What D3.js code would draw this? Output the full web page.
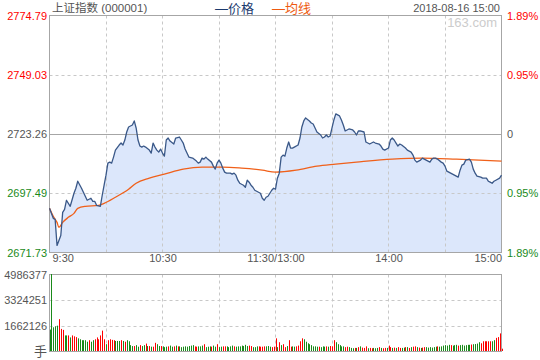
<!DOCTYPE html>
<html><head><meta charset="utf-8">
<script src="https://cdn.jsdelivr.net/npm/d3@7"></script>
<style>
body{margin:0;background:#fff}
svg{display:block}
text{font-family:"Liberation Sans",Arial,"Noto Sans CJK SC",sans-serif;font-size:11px}
</style>
</head><body>
<svg id="c" width="540" height="360"></svg>
<script>
// ---- data ----
const title = "上证指数 (000001)";
const dateLabel = "2018-08-16 15:00";
const legendLabels = ["—价格", "—均线"];
const priceTicks = [2671.73, 2697.49, 2723.26, 2749.03, 2774.79];
const pctLabels = ["1.89%", "0.95%", "0", "0.95%", "1.89%"];
const volTicks = [0, 1662126, 3324251, 4986377];
const timeMinutes = [0, 60, 120, 180, 240];
const timeLabels = ["9:30", "10:30", "11:30/13:00", "14:00", "15:00"];

const priceMinute = [0,2,3,4,6,7,8,9,11,13,14,15,17,18,19,20,22,23,24,25,27,28,29,30,31,32,33,34,35,37,38,39,40,41,42,44,45,46,47,48,49,50,51,53,54,55,56,57,58,59,60,61,62,63,64,66,67,69,70,71,72,73,74,76,78,79,80,81,82,83,84,86,87,88,89,90,91,92,93,94,96,97,98,99,100,101,103,104,105,106,107,108,109,110,112,113,114,115,116,117,118,119,120,121,122,123,124,125,126,127,128,129,130,132,133,134,135,136,138,139,140,141,142,144,145,146,147,148,149,150,151,152,154,155,156,157,158,159,161,162,163,164,165,167,168,170,171,172,173,175,176,177,178,180,181,182,183,184,185,186,187,189,190,192,193,194,195,197,198,199,200,202,203,204,205,206,208,209,210,211,213,214,216,217,218,219,220,221,223,224,225,226,227,229,230,232,233,234,235,236,237,239,240];
const priceValue = [2690.94,2686.58,2686.14,2674.79,2679.15,2689.20,2690.51,2694.44,2691.82,2697.49,2699.68,2702.73,2699.68,2697.93,2696.18,2694.44,2695.31,2694.00,2694.00,2692.25,2691.82,2696.62,2700.99,2705.36,2710.60,2711.03,2710.60,2713.22,2716.27,2718.46,2719.33,2718.46,2720.64,2724.13,2726.32,2727.19,2728.94,2725.88,2720.64,2718.02,2717.58,2718.02,2717.58,2716.27,2714.96,2719.33,2717.58,2716.27,2715.40,2716.71,2714.96,2713.65,2720.64,2721.51,2720.20,2718.89,2721.51,2721.95,2720.64,2719.33,2716.71,2714.96,2713.22,2712.78,2711.47,2710.60,2711.03,2712.78,2712.34,2713.22,2712.34,2711.03,2709.29,2707.98,2710.60,2711.91,2710.60,2708.41,2706.67,2706.23,2706.23,2705.79,2706.23,2705.36,2703.17,2701.86,2700.99,2700.11,2703.17,2702.30,2700.99,2700.11,2698.80,2698.37,2697.49,2695.31,2694.44,2695.75,2696.18,2697.49,2698.80,2699.68,2699.24,2704.05,2706.23,2713.22,2714.09,2713.65,2717.15,2719.77,2717.15,2717.15,2717.58,2718.46,2721.51,2726.32,2728.94,2730.25,2728.94,2728.06,2727.63,2725.88,2724.13,2722.82,2721.51,2721.95,2722.82,2721.95,2722.39,2725.88,2729.37,2731.99,2731.12,2729.37,2727.19,2724.57,2725.01,2725.44,2725.01,2724.13,2722.82,2724.57,2724.57,2724.13,2719.77,2718.89,2719.33,2719.77,2719.33,2718.89,2718.02,2716.71,2716.27,2717.15,2720.64,2721.51,2720.64,2719.33,2718.02,2718.89,2718.46,2717.15,2716.27,2715.40,2714.09,2711.91,2711.03,2711.91,2712.78,2712.34,2711.91,2711.03,2712.34,2712.78,2712.78,2712.34,2711.03,2710.60,2709.29,2707.10,2706.23,2705.79,2704.92,2704.48,2707.54,2709.72,2710.16,2711.91,2712.34,2711.03,2707.98,2706.23,2704.92,2704.48,2704.05,2704.05,2702.73,2702.30,2701.86,2702.73,2703.17,2704.05,2705.36];

const avgMinute = [0,2,4,5,7,10,13,15,19,26,29,35,42,46,53,61,71,81,92,102,113,120,131,142,152,163,182,198,216,240];
const avgValue = [2690.94,2687.45,2684.83,2682.65,2684.83,2687.01,2688.76,2690.94,2691.82,2692.25,2693.13,2695.75,2699.24,2701.86,2704.05,2705.79,2707.98,2708.85,2708.85,2708.41,2707.54,2706.67,2707.54,2709.29,2710.16,2711.03,2712.34,2712.78,2712.34,2711.47];

const volume = [
1389000,4986377,1535000,1598000,1641000,2062000,1431000,1368000,1010000,1010000,
1010000,880000,1010000,950000,900000,820000,760000,700000,700000,700000,
600000,700000,600000,700000,760000,880000,760000,1010000,1320000,760000,
440000,700000,760000,720000,700000,650000,650000,650000,700000,650000,
600000,700000,630000,380000,320000,320000,380000,280000,380000,320000,
380000,480000,320000,320000,280000,280000,530000,440000,320000,320000,
300000,250000,280000,300000,350000,280000,300000,350000,300000,300000,
250000,280000,300000,280000,320000,350000,380000,300000,280000,300000,
300000,350000,440000,250000,280000,300000,280000,350000,280000,440000,
250000,280000,300000,300000,300000,250000,300000,350000,300000,280000,
300000,300000,350000,320000,400000,320000,350000,320000,250000,250000,
300000,300000,280000,280000,300000,300000,320000,280000,250000,280000,
820000,250000,570000,380000,440000,250000,320000,700000,280000,300000,
280000,300000,350000,630000,820000,760000,600000,500000,440000,380000,
300000,300000,280000,280000,250000,300000,280000,300000,280000,320000,
300000,700000,570000,440000,380000,300000,300000,250000,280000,250000,
200000,180000,200000,200000,250000,300000,220000,200000,300000,180000,
200000,180000,200000,180000,200000,250000,200000,180000,200000,200000,
350000,250000,200000,220000,200000,250000,200000,200000,220000,250000,
250000,200000,250000,280000,300000,250000,220000,200000,220000,250000,
250000,220000,250000,220000,250000,280000,300000,280000,300000,350000,
380000,350000,400000,380000,350000,380000,400000,350000,380000,400000,
350000,380000,400000,400000,420000,440000,450000,480000,570000,500000,
630000,630000,630000,630000,630000,630000,700000,850000,900000,1140000,
150000];
const volumeUp = (
"gggggrrrgg"+"rgrrrggggg"+"grggrrrrrr"+"grrrrgggrg"+"rggggrggrg"+
"grgrgrrggr"+"gggrggrgrg"+"gggggggrrg"+"ggrgggrggr"+"ggrrggggrg"+
"ggggggrrgg"+"grrrrgggrr"+"rgrgrrgrrg"+"grrrrggggg"+"gggrgggrgr"+
"rrgggggrrg"+"ggrgrgrrrg"+"rrgggrgrrg"+"rrgrgrrggr"+"grgrrgrgrr"+
"ggggggrggg"+"gggrgggrgg"+"ggggrggggr"+"rrrrrggrrr"+"r").split("");

// ---- drawing ----
const RED = "#ff0000", GREEN = "#1a8a1a", GRAY = "#555555", GRID = "#c8c8c8", BORDER = "#a6a6a6";
const svg = d3.select("#c");
const x = d3.scaleLinear().domain([0, 240]).range([49.5, 501.5]);
const y = d3.scaleLinear().domain([priceTicks[0], priceTicks[4]]).range([252.5, 15.5]);
const yv = d3.scaleLinear().domain([0, volTicks[3]]).range([351.5, 274.5]);
const crisp = v => Math.round(v) + 0.5;

const pts = priceMinute.map((m, i) => ({m, v: priceValue[i]}));
const avgPts = avgMinute.map((m, i) => ({m, v: avgValue[i]}));

// price area fill
svg.append("path").datum(pts)
  .attr("d", d3.area().x(d => x(d.m)).y0(y(priceTicks[0])).y1(d => y(d.v)))
  .attr("fill", "#dce7fb");

// vertical dashed grid (both panels)
const gridMin = d3.range(30, 240, 30);
[[y.range()[1], y.range()[0]], [yv.range()[1], yv.range()[0]]].forEach(([a, b]) => {
  svg.append("g").selectAll("line").data(gridMin).join("line")
    .attr("x1", d => crisp(x(d) - 0.5)).attr("x2", d => crisp(x(d) - 0.5))
    .attr("y1", a).attr("y2", b)
    .attr("stroke", GRID).attr("stroke-dasharray", "3,3");
});
// horizontal dashed grid
svg.append("g").selectAll("line").data([priceTicks[1], priceTicks[3]]).join("line")
  .attr("x1", x(0)).attr("x2", x(240))
  .attr("y1", d => crisp(y(d))).attr("y2", d => crisp(y(d)))
  .attr("stroke", GRID).attr("stroke-dasharray", "3,3");
svg.append("g").selectAll("line").data([volTicks[1], volTicks[2]]).join("line")
  .attr("x1", x(0)).attr("x2", x(240))
  .attr("y1", d => crisp(yv(d))).attr("y2", d => crisp(yv(d)))
  .attr("stroke", GRID).attr("stroke-dasharray", "3,3");
// previous close line
svg.append("line").attr("x1", x(0)).attr("x2", x(240))
  .attr("y1", crisp(y(priceTicks[2]))).attr("y2", crisp(y(priceTicks[2])))
  .attr("stroke", BORDER);

// borders
svg.append("rect").attr("x", x(0)).attr("y", y.range()[1])
  .attr("width", x(240) - x(0)).attr("height", y.range()[0] - y.range()[1])
  .attr("fill", "none").attr("stroke", BORDER);
svg.append("rect").attr("x", x(0)).attr("y", yv.range()[1])
  .attr("width", x(240) - x(0)).attr("height", yv.range()[0] - yv.range()[1])
  .attr("fill", "none").attr("stroke", BORDER);

// average line
svg.append("path").datum(avgPts)
  .attr("d", d3.line().x(d => x(d.m)).y(d => y(d.v)).curve(d3.curveMonotoneX))
  .attr("fill", "none").attr("stroke", "#f0601a").attr("stroke-width", 1.3);
// price line
svg.append("path").datum(pts)
  .attr("d", d3.line().x(d => x(d.m)).y(d => y(d.v)))
  .attr("fill", "none").attr("stroke", "#3a5888").attr("stroke-width", 1.3)
  .attr("stroke-linejoin", "round");

// volume bars
svg.append("g").selectAll("rect").data(volume).join("rect")
  .attr("x", (d, i) => Math.round(x(i)))
  .attr("width", 1)
  .attr("y", d => yv(d) - 0.5)
  .attr("height", d => yv(0) - yv(d))
  .attr("fill", (d, i) => volumeUp[i] === "r" ? RED : GREEN);

// left price axis
const leftColors = [GREEN, GREEN, GRAY, RED, RED];
const ax1 = svg.append("g").attr("transform", "translate(47,0)")
  .call(d3.axisLeft(y).tickValues(priceTicks).tickSize(0).tickPadding(0).tickFormat(d3.format(".2f")));
ax1.select(".domain").remove();
ax1.selectAll("text").attr("fill", (d, i) => leftColors[i])
  .style("font-family", '"Liberation Sans",Arial,sans-serif').style("font-size", "11px");

// right pct axis
const ax2 = svg.append("g").attr("transform", "translate(507,0)")
  .call(d3.axisRight(y).tickValues(priceTicks).tickSize(0).tickPadding(0).tickFormat((d, i) => pctLabels[i]));
ax2.select(".domain").remove();
ax2.selectAll("text").attr("fill", (d, i) => leftColors[i])
  .style("font-family", '"Liberation Sans",Arial,sans-serif').style("font-size", "11px");

// time axis
const ax3 = svg.append("g").attr("transform", "translate(0,254)")
  .call(d3.axisBottom(x).tickValues(timeMinutes).tickSize(0).tickPadding(0).tickFormat((d, i) => timeLabels[i]));
ax3.select(".domain").remove();
ax3.selectAll("text").attr("fill", GRAY).attr("dy", "0.71em")
  .style("font-family", '"Liberation Sans",Arial,sans-serif').style("font-size", "11px")
  .attr("text-anchor", (d, i) => i === 0 ? "start" : (i === timeMinutes.length - 1 ? "end" : "middle"))
  .attr("dx", (d, i) => i === 0 ? 2.5 : 0);

// volume axis
const ax4 = svg.append("g").attr("transform", "translate(47,0)")
  .call(d3.axisLeft(yv).tickValues(volTicks).tickSize(0).tickPadding(0).tickFormat(d => d === 0 ? "手" : d));
ax4.select(".domain").remove();
ax4.selectAll("text").attr("fill", GRAY)
  .style("font-family", '"Liberation Sans",Arial,"Noto Sans CJK SC",sans-serif')
  .style("font-size", d => d === 0 ? "13px" : "11px");

// header
svg.append("text").attr("x", 52).attr("y", 12).attr("fill", GRAY)
  .style("font-size", "11.5px").text(title);
svg.append("text").attr("x", 215).attr("y", 12.5).attr("fill", "#1c3a6e")
  .style("font-size", "13px").text(legendLabels[0]);
svg.append("text").attr("x", 272).attr("y", 12.5).attr("fill", "#ee5a10")
  .style("font-size", "13px").text(legendLabels[1]);
svg.append("text").attr("x", 500).attr("y", 12).attr("fill", GRAY)
  .attr("text-anchor", "end").text(dateLabel);
svg.append("text").attr("x", 497).attr("y", 27).attr("fill", "#cccccc")
  .attr("text-anchor", "end").style("font-size", "13px").text("163.com");
</script>
</body></html>
